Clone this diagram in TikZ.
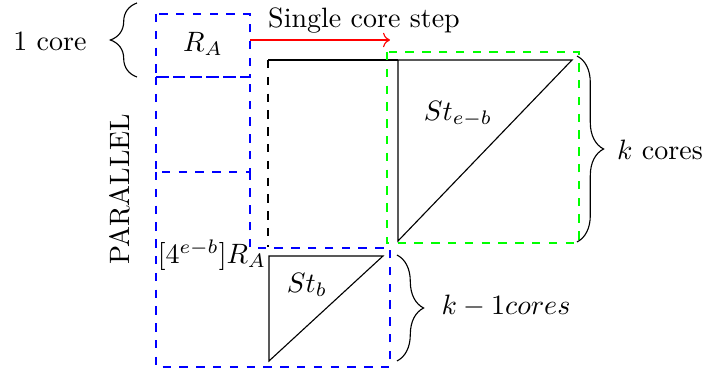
\documentclass[tikz,border=0pt]{standalone}
\usepackage{amsmath,amssymb}
\usepackage{xcolor}
\usepackage{tikz}
\usetikzlibrary{arrows.meta, positioning, decorations.pathreplacing}

\begin{document}
\begin{tikzpicture}[
    x=0.3571pt, y=-0.3571pt,
    bluebox/.style={draw=blue, dashed},
    greenbox/.style={draw=green, dashed},
    brace/.style={decorate, decoration={brace, amplitude=9.5pt}},
    arrow/.style={->, red}
]
\useasboundingbox (0,0) rectangle (707,373);

% Parallel column of cores
\draw[bluebox] (156,14) rectangle (250,77);
\draw[bluebox] (156,77) rectangle (250,172);
\draw[bluebox] (156,172) -- (156,367) -- (390,367) -- (390,248) -- (250,248) -- (250,172);
\node (ra) at (203,44) {$R_A$};
\node (rarep) at (212,255) {$[4^{e-b}]R_A$};
\node[rotate=90] (parallel) at (120,189) {PARALLEL};

% Single core step
\coordinate (stepstart) at (250,40);
\coordinate (stepend) at (390,40);
\draw[arrow] (stepstart) -- (stepend);
\node (steplabel) at (364,21) {Single core step};

% Big square
\draw[dashed] (268,60) -- (268,247);
\draw (268,60) -- (398,60);
\draw (398,60) -- (572,60) -- (398,241) -- cycle;
\draw[greenbox] (387,52) rectangle (579,243);
\node (steb) at (458,114) {$St_{e-b}$};

% Small triangle
\draw (269,256) -- (383,256) -- (269,361) -- cycle;
\node (stb) at (307,285) {$St_b$};

% Braces
\draw[brace] (137,77) -- (137,3);
\node (onecore) at (50,41) {1 core};
\draw[brace] (577,56) -- (577,242);
\node (kcores) at (660,150) {$k$ cores};
\draw[brace] (397,255) -- (397,361);
\node (kmcores) at (506,306) {$k-1cores$};
\end{tikzpicture}
\end{document}
